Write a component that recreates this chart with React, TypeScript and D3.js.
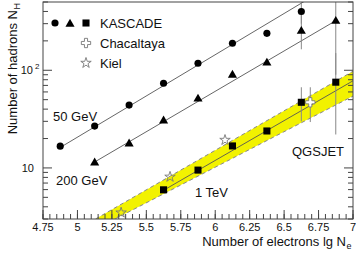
import * as d3 from "d3";

// bins in lg Ne
const lgNeCircle = [4.875, 5.125, 5.375, 5.625, 5.875, 6.125, 6.375, 6.625];
const nh50GeV = [16.7, 26.8, 44, 73.6, 118, 189, 239, 400];
const lgNeTriangle = [5.125, 5.375, 5.625, 5.875, 6.125, 6.375, 6.625, 6.875];
const nh200GeV = [11.5, 18, 30.9, 51.8, 91, 121, 256, 324];
const lgNeSquare = [5.625, 5.875, 6.125, 6.375, 6.625, 6.875];
const nh1TeV = [5.97, 9.5, 16.8, 23.9, 47, 75.5];

// error bars [lgNe, low, high]
const errCircle = [[6.625, 300, 700]];
const errTriangle = [[6.625, 164, 420], [6.875, 90, 700]];
const errSquare = [[6.625, 30, 67], [6.875, 22, 150]];

const chacaltayaX = [6.69];
const chacaltayaY = [47];
const chacaltayaErr = [[6.69, 29.5, 67]];

const kielX = [5.317, 5.672, 6.071];
const kielY = [3.48, 8.1, 19.3];

// fit lines: [x0, y0, x1, y1]
const fit50 = [4.875, 16.2, 6.75, 620];
const fit200 = [5.125, 11.5, 6.875, 322];
const fit1TeV = [5.625, 5.9, 7.0, 78];

// QGSJET band
const bandX = [5.0, 7.0];
const bandHi = [2.35, 97.7];
const bandLo = [1.9, 54.4];

const xTicks = [4.75, 5, 5.25, 5.5, 5.75, 6, 6.25, 6.5, 6.75, 7];
const xTickLabels = ["4.75", "5", "5.25", "5.5", "5.75", "6", "6.25", "6.5", "6.75", "7"];

const W = 356, H = 253;
const mL = 43, mR = 3, mT = 2, mB = 34;

export default function App() {
  const x = d3.scaleLinear().domain([4.75, 7]).range([mL, W - mR]);
  const y = d3.scaleLog().domain([3, 500]).range([H - mB, mT]);

  const minorX = d3.range(4.75, 7.0001, 0.05);
  const yMinor = [3, 4, 5, 6, 7, 8, 9, 20, 30, 40, 50, 60, 70, 80, 90, 200, 300, 400, 500];
  const yMajor = [10, 100];

  const line = d3.line<number[]>().x(d => x(d[0])).y(d => y(d[1]));
  const seg = (f: number[]) => line([[f[0], f[1]], [f[2], f[3]]]) || "";

  const area = d3.area<number>()
    .x((_, i) => x(bandX[i]))
    .y0((_, i) => y(bandLo[i]))
    .y1((_, i) => y(bandHi[i]));

  const sym = (t: d3.SymbolType, s: number) => d3.symbol().type(t).size(s)() || "";
  const circ = sym(d3.symbolCircle, 40);
  const tri = sym(d3.symbolTriangle, 36);
  const sq = sym(d3.symbolSquare, 50);
  const cross = sym(d3.symbolCross, 48);
  const star = sym(d3.symbolStar, 34);

  const font = "Liberation Sans, Arial, Helvetica, sans-serif";
  const x0 = mL, x1 = W - mR, y0 = H - mB, y1 = mT;

  const errBars = (errs: number[][], key: string) =>
    errs.map((e, i) => (
      <line key={key + i} x1={x(e[0])} x2={x(e[0])} y1={y(e[1])} y2={y(e[2])}
        stroke="#888" strokeWidth={1} />
    ));

  return (
    <div style={{ position: "absolute", left: 0, top: 0 }}>
      <svg width={W} height={H} style={{ display: "block", background: "#fff" }} fontFamily={font}>
        <defs>
          <clipPath id="plot">
            <rect x={x0} y={y1} width={x1 - x0} height={y0 - y1} />
          </clipPath>
        </defs>
        <g clipPath="url(#plot)">
          <path d={area(bandX) || ""} fill="#f2f200" />
          <path d={line([[bandX[0], bandHi[0]], [bandX[1], bandHi[1]]]) || ""} stroke="#888" strokeDasharray="4,3" fill="none" />
          <path d={line([[bandX[0], bandLo[0]], [bandX[1], bandLo[1]]]) || ""} stroke="#888" strokeDasharray="4,3" fill="none" />
          <path d={seg(fit50)} stroke="#555" strokeWidth={0.9} fill="none" />
          <path d={seg(fit200)} stroke="#555" strokeWidth={0.9} fill="none" />
          <path d={seg(fit1TeV)} stroke="#555" strokeWidth={0.9} fill="none" />
          {errBars(errCircle, "ec")}
          {errBars(errTriangle, "et")}
          {errBars(errSquare, "es")}
          {errBars(chacaltayaErr, "ech")}
          {lgNeCircle.map((v, i) => (
            <path key={"c" + i} d={circ} transform={`translate(${x(v)},${y(nh50GeV[i])})`} fill="#000" />
          ))}
          {lgNeTriangle.map((v, i) => (
            <path key={"t" + i} d={tri} transform={`translate(${x(v)},${y(nh200GeV[i]) + 0.8})`} fill="#000" />
          ))}
          {lgNeSquare.map((v, i) => (
            <path key={"s" + i} d={sq} transform={`translate(${x(v)},${y(nh1TeV[i])})`} fill="#000" />
          ))}
          {chacaltayaX.map((v, i) => (
            <path key={"ch" + i} d={cross} transform={`translate(${x(v)},${y(chacaltayaY[i])})`} fill="#fff" stroke="#777" strokeWidth={0.9} />
          ))}
          {kielX.map((v, i) => (
            <path key={"k" + i} d={star} transform={`translate(${x(v)},${y(kielY[i])})`} fill="none" stroke="#777" strokeWidth={0.9} />
          ))}
        </g>

        {/* frame */}
        <rect x={x0} y={y1} width={x1 - x0} height={y0 - y1} fill="none" stroke="#444" strokeWidth={1} />

        {/* x ticks */}
        {minorX.map((v, i) => (
          <line key={"xm" + i} x1={x(v)} x2={x(v)} y1={y0} y2={y0 - 5} stroke="#444" />
        ))}
        {xTicks.map((v, i) => (
          <g key={"xt" + i}>
            <line x1={x(v)} x2={x(v)} y1={y0} y2={y0 - 9} stroke="#444" />
            <text x={x(v)} y={231} fontSize={11} textAnchor="middle" fill="#111">{xTickLabels[i]}</text>
          </g>
        ))}

        {/* y ticks, left and right */}
        {yMinor.map((v, i) => (
          <g key={"ym" + i}>
            <line x1={x0} x2={x0 + 5} y1={y(v)} y2={y(v)} stroke="#444" />
            <line x1={x1} x2={x1 - 5} y1={y(v)} y2={y(v)} stroke="#444" />
          </g>
        ))}
        {yMajor.map((v, i) => (
          <g key={"yM" + i}>
            <line x1={x0} x2={x0 + 9} y1={y(v)} y2={y(v)} stroke="#444" />
            <line x1={x1} x2={x1 - 9} y1={y(v)} y2={y(v)} stroke="#444" />
          </g>
        ))}
        <text x={34} y={y(10) + 4} fontSize={11} textAnchor="end" fill="#111">10</text>
        <text x={33} y={y(100) + 4} fontSize={11} textAnchor="end" fill="#111">10</text>
        <text x={35} y={y(100) - 1} fontSize={8} fill="#111">2</text>

        {/* axis titles */}
        <text x={346} y={246} fontSize={13} textAnchor="end" fill="#111">
          Number of electrons lg N
        </text>
        <text x={346.5} y={249} fontSize={9} fill="#111">e</text>
        <g transform="translate(17,2) rotate(-90)">
          <text x={-8} y={0} fontSize={13} textAnchor="end" fill="#111">Number of hadrons N</text>
          <text x={-7.5} y={3} fontSize={9} fill="#111">H</text>
        </g>

        {/* legend */}
        <path d={circ} transform="translate(55,23)" fill="#000" />
        <path d={tri} transform="translate(70,24)" fill="#000" />
        <path d={sq} transform="translate(86,23)" fill="#000" />
        <text x={100} y={28} fontSize={13} fill="#111">KASCADE</text>
        <path d={cross} transform="translate(86,43)" fill="#fff" stroke="#777" strokeWidth={0.9} />
        <text x={100} y={48} fontSize={13} fill="#111">Chacaltaya</text>
        <path d={star} transform="translate(86,63)" fill="none" stroke="#777" strokeWidth={0.9} />
        <text x={100} y={68} fontSize={13} fill="#111">Kiel</text>

        {/* annotations */}
        <text x={53} y={121} fontSize={13} fill="#111">50 GeV</text>
        <text x={56} y={185} fontSize={13} fill="#111">200 GeV</text>
        <text x={195} y={197} fontSize={13} fill="#111">1 TeV</text>
        <text x={292} y={156} fontSize={13} fill="#111">QGSJET</text>
      </svg>
    </div>
  );
}
